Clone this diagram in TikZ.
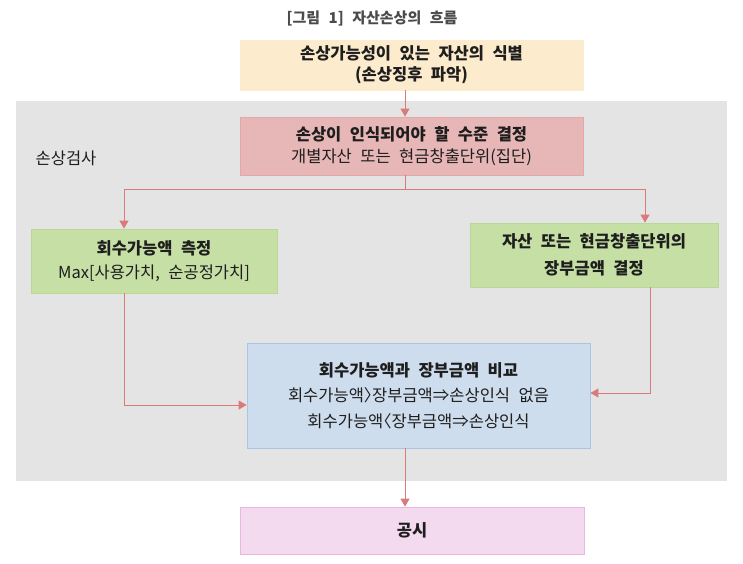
\documentclass[tikz,border=0pt]{standalone}
\usepackage{fontspec}
\setmainfont{Noto Sans CJK KR}
\usetikzlibrary{arrows.meta}
\definecolor{bgray}{HTML}{E4E4E4}
\definecolor{cbeige}{HTML}{FCEBCC}
\definecolor{cred}{HTML}{E7B6B6}
\definecolor{credb}{HTML}{E4A6A6}
\definecolor{cgreen}{HTML}{C5DFA5}
\definecolor{cgreenb}{HTML}{B9D896}
\definecolor{cblue}{HTML}{CEDDED}
\definecolor{cblueb}{HTML}{A9C6E3}
\definecolor{cpink}{HTML}{F4DAEE}
\definecolor{cpinkb}{HTML}{EBB6E2}
\definecolor{cline}{HTML}{D97A7C}
\definecolor{ctext}{HTML}{1E1E1E}
\newcommand{\krfont}[2]{\fontsize{#1}{#2}\selectfont\spaceskip=8.5pt plus 1pt minus 1pt\relax}
\newcommand{\rab}{〉\kern-0.5em}
\newcommand{\lab}{\kern-0.5em〈}
\tikzset{
  box/.style={draw, line width=0.8pt, align=center, inner sep=0pt, text=ctext},
  arr/.style={draw=cline, line width=0.9pt, -{Triangle[length=8pt,width=9pt]}},
  ln/.style={draw=cline, line width=0.9pt}
}
\begin{document}
\begin{tikzpicture}[x=1pt,y=-1pt]
\useasboundingbox (0,0) rectangle (743,563);
\fill[white] (0,0) rectangle (743,563);
\fill[bgray] (16,101) rectangle (727,481);
\node[font=\krfont{15}{16}\bfseries, text=ctext!80] (title) at (372,18) {[그림 1] 자산손상의 흐름};
\node[font=\krfont{16.5}{17}, text=ctext] (lbl) at (66,158) {손상검사};
\node[box, fill=cbeige, draw=cbeige, minimum width=343pt, minimum height=50pt, font=\krfont{16.5}{21}] (top) at (411.5,65)
  {\textbf{손상가능성이 있는 자산의 식별}\\\textbf{(손상징후 파악)}};
\node[box, fill=cred, draw=credb, minimum width=343pt, minimum height=58pt, font=\krfont{16.5}{21.5}] (red) at (411.5,146)
  {\textbf{손상이 인식되어야 할 수준 결정}\\개별자산 또는 현금창출단위(집단)};
\node[box, fill=cgreen, draw=cgreenb, minimum width=246pt, minimum height=64pt, font=\krfont{16.5}{24}] (lg) at (154,261)
  {\textbf{회수가능액 측정}\\Max[사용가치, 순공정가치]};
\node[box, fill=cgreen, draw=cgreenb, minimum width=248pt, minimum height=64pt, font=\krfont{16.5}{27}] (rg) at (594,255)
  {\textbf{자산 또는 현금창출단위의}\\\textbf{장부금액 결정}};
\node[box, fill=cblue, draw=cblueb, minimum width=343pt, minimum height=105pt, font=\krfont{16.5}{25.5}] (blue) at (418.5,395.5)
  {\textbf{회수가능액과 장부금액 비교}\\회수가능액\rab 장부금액⇒손상인식 없음\\회수가능액\lab 장부금액⇒손상인식};
\node[box, fill=cpink, draw=cpinkb, minimum width=344pt, minimum height=47pt, font=\krfont{16.5}{21}] (pink) at (412,530.5)
  {\textbf{공시}};
\coordinate (cx) at (405,0);
\coordinate (jn) at (405,189);
\coordinate (lx) at (124,0);
\coordinate (rx) at (645,0);
\coordinate (lj) at (124,405);
\coordinate (rj) at (650,393);
\draw[arr] (top.south -| cx) -- (red.north -| cx);
\draw[ln] (red.south -| cx) -- (jn);
\draw[arr] (jn) -- (jn -| lx) -- (lg.north -| lx);
\draw[arr] (jn) -- (jn -| rx) -- (rg.north -| rx);
\draw[arr] (lg.south -| lx) -- (lj) -- (blue.west |- lj);
\draw[arr] (rg.south -| rj) -- (rj) -- (blue.east |- rj);
\draw[arr] (blue.south -| cx) -- (pink.north -| cx);
\end{tikzpicture}
\end{document}
